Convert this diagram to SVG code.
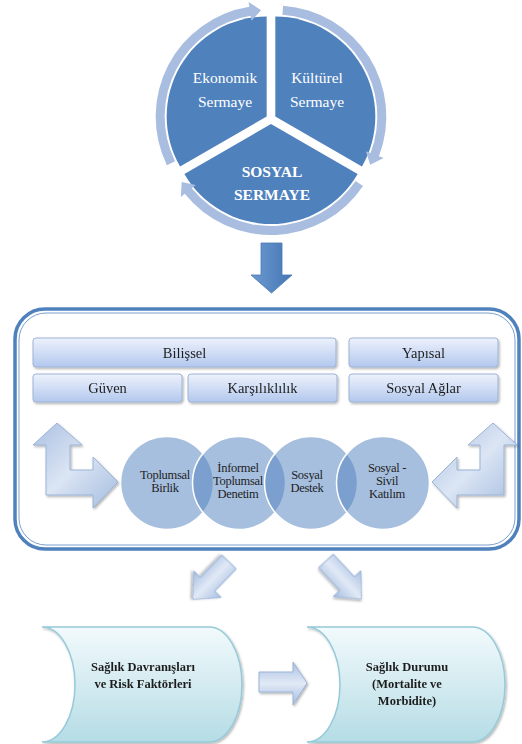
<svg xmlns="http://www.w3.org/2000/svg" width="522" height="744" viewBox="0 0 522 744">
<defs>
<linearGradient id="gBox" x1="0" y1="0" x2="0" y2="1"><stop offset="0" stop-color="#edf2fc"/><stop offset="1" stop-color="#b3c8ee"/></linearGradient>
<linearGradient id="gCyl" x1="0" y1="0" x2="0" y2="1"><stop offset="0" stop-color="#f2fafc"/><stop offset="1" stop-color="#b5dce5"/></linearGradient>
<linearGradient id="gArr" x1="0" y1="0" x2="1" y2="1"><stop offset="0" stop-color="#a9c0e1"/><stop offset="0.5" stop-color="#dbe5f4"/><stop offset="1" stop-color="#a4bcdf"/></linearGradient>
<linearGradient id="gArrH" x1="0" y1="0" x2="0" y2="1"><stop offset="0" stop-color="#a9c0e1"/><stop offset="0.5" stop-color="#e1e9f6"/><stop offset="1" stop-color="#a4bcdf"/></linearGradient>
<linearGradient id="gDown" x1="0" y1="0" x2="1" y2="0"><stop offset="0" stop-color="#6e99d0"/><stop offset="1" stop-color="#4477b5"/></linearGradient>
<filter id="sh" x="-10%" y="-10%" width="130%" height="130%"><feDropShadow dx="1.2" dy="1.5" stdDeviation="1" flood-color="#000" flood-opacity="0.3"/></filter>
</defs>
<style>
.wedge{fill:#4f81bd}
.ring{fill:#a8bddf}
.wt{font-family:"Liberation Serif",serif;fill:#fff;text-anchor:middle}
.box{fill:url(#gBox);stroke:#9db3d6;stroke-width:1}
.bt{font-family:"Liberation Serif",serif;font-size:14.5px;fill:#1e1e1e;text-anchor:middle}
.circ{fill:#4f7fbd;fill-opacity:0.5;stroke:#fff;stroke-width:1.5}
.ct{font-family:"Liberation Serif",serif;font-size:12.5px;fill:#1e1e1e;text-anchor:middle;letter-spacing:-0.3px}
.cyl{fill:url(#gCyl);stroke:#95cad9;stroke-width:1.5}
.yt{font-family:"Liberation Serif",serif;font-size:12.5px;font-weight:bold;fill:#1e1e1e;text-anchor:middle}
.arr{fill:url(#gArr);stroke:#9ab3d7;stroke-width:1}
.arrh{fill:url(#gArrH);stroke:#9ab3d7;stroke-width:1}
</style>

<g id="cycle">
<g id="ekonomik" transform="translate(271,119) rotate(210) translate(5,0)">
<path class="wedge" d="M0,0 L50,-86.6 A100,100 0 0 1 50,86.6 Z"/>
<path class="ring" d="M62.07,-92.02 A111,111 0 0 1 69.85,86.26 L73.00,90.15 L58.00,89.32 L61.04,75.38 L64.19,79.27 A102,102 0 0 0 57.04,-84.56 Z"/>
</g>
<g id="kulturel" transform="translate(271,119) rotate(-30) translate(5,0)">
<path class="wedge" d="M0,0 L50,-86.6 A100,100 0 0 1 50,86.6 Z"/>
<path class="ring" d="M62.07,-92.02 A111,111 0 0 1 69.85,86.26 L73.00,90.15 L58.00,89.32 L61.04,75.38 L64.19,79.27 A102,102 0 0 0 57.04,-84.56 Z"/>
</g>
<g id="sosyal" transform="translate(271,119) rotate(90) translate(5,0)">
<path class="wedge" d="M0,0 L50,-86.6 A100,100 0 0 1 50,86.6 Z"/>
<path class="ring" d="M62.07,-92.02 A111,111 0 0 1 69.85,86.26 L73.00,90.15 L58.00,89.32 L61.04,75.38 L64.19,79.27 A102,102 0 0 0 57.04,-84.56 Z"/>
</g>
<text class="wt" font-size="15.5" x="225" y="83">Ekonomik</text>
<text class="wt" font-size="15.5" x="225" y="107">Sermaye</text>
<text class="wt" font-size="15.5" x="317" y="83">Kültürel</text>
<text class="wt" font-size="15.5" x="317" y="107">Sermaye</text>
<text class="wt" font-size="15.5" font-weight="bold" x="272" y="177">SOSYAL</text>
<text class="wt" font-size="15.5" font-weight="bold" x="272" y="200">SERMAYE</text>
</g>

<g id="container">
<rect x="15" y="309" width="504" height="240" rx="30" fill="#fff" stroke="#4f81bd" stroke-width="3.5"/>
<rect x="19" y="313" width="496" height="232" rx="27" fill="none" stroke="#7aa0d0" stroke-width="1"/>
</g>

<g id="headers" filter="url(#sh)">
<g id="bilissel"><rect class="box" x="33" y="338" width="303" height="29" rx="3"/><text class="bt" x="184.5" y="357.5">Bilişsel</text></g>
<g id="yapisal"><rect class="box" x="349" y="338" width="149" height="29" rx="3"/><text class="bt" x="423.5" y="357.5">Yapısal</text></g>
<g id="guven"><rect class="box" x="33" y="374" width="149" height="28" rx="3"/><text class="bt" x="107.5" y="393">Güven</text></g>
<g id="karsiliklilik"><rect class="box" x="188" y="374" width="149" height="28" rx="3"/><text class="bt" x="262.5" y="393">Karşılıklılık</text></g>
<g id="sosyal-aglar"><rect class="box" x="349" y="374" width="149" height="28" rx="3"/><text class="bt" x="423.5" y="393">Sosyal Ağlar</text></g>
</g>

<g id="circles">
<g id="toplumsal-birlik"><circle class="circ" cx="167" cy="483" r="46.5"/></g>
<g id="informel"><circle class="circ" cx="239" cy="483" r="46.5"/></g>
<g id="sosyal-destek"><circle class="circ" cx="311" cy="483" r="46.5"/></g>
<g id="sivil-katilim"><circle class="circ" cx="383" cy="483" r="46.5"/></g>
<text class="ct" x="165" y="479">Toplumsal</text>
<text class="ct" x="165" y="492">Birlik</text>
<text class="ct" x="238" y="472">İnformel</text>
<text class="ct" x="238" y="485">Toplumsal</text>
<text class="ct" x="238" y="498">Denetim</text>
<text class="ct" x="307" y="479">Sosyal</text>
<text class="ct" x="307" y="492">Destek</text>
<text class="ct" x="387" y="472">Sosyal -</text>
<text class="ct" x="387" y="485">Sivil</text>
<text class="ct" x="387" y="498">Katılım</text>
</g>

<g id="outcomes" filter="url(#sh)">
<g id="saglik-davranislari">
<path class="cyl" d="M42,627 L209,627 A33,57.5 0 0 1 209,742 L42,742 A33,57.5 0 0 0 42,627 Z"/>
<text class="yt" x="143" y="671">Sağlık Davranışları</text>
<text class="yt" x="143" y="688">ve Risk Faktörleri</text>
</g>
<g id="saglik-durumu">
<path class="cyl" d="M307,627 L472,627 A33,57.5 0 0 1 472,742 L307,742 A33,57.5 0 0 0 307,627 Z"/>
<text class="yt" x="407" y="671">Sağlık Durumu</text>
<text class="yt" x="407" y="688">(Mortalite ve</text>
<text class="yt" x="407" y="705">Morbidite)</text>
</g>
</g>

<g id="connectors">
<path fill="url(#gDown)" stroke="#4a7ab5" stroke-width="0.8" d="M261,243 L282,243 L282,275 L292,275 L271.5,293 L251,275 L261,275 Z"/>
<path class="arr" filter="url(#sh)" d="M57,423 L82,445 L70,445 L70,470 L93,470 L93,457 L118,482 L93,508 L93,495 L46,495 L46,445 L33,445 Z"/>
<path class="arr" filter="url(#sh)" d="M493,423 L468,445 L480,445 L480,470 L457,470 L457,457 L432,482 L457,508 L457,495 L504,495 L504,445 L517,445 Z"/>
<path class="arrh" filter="url(#sh)" transform="translate(229,562) rotate(134)" d="M0,-10 L31,-10 L31,-19 L52,0 L31,19 L31,10 L0,10 Z"/>
<path class="arrh" filter="url(#sh)" transform="translate(326,561) rotate(47)" d="M0,-10 L31,-10 L31,-19 L52,0 L31,19 L31,10 L0,10 Z"/>
<path class="arrh" filter="url(#sh)" d="M259,672 L293,672 L293,662 L307,683 L293,705 L293,692 L259,692 Z"/>
</g>
</svg>
